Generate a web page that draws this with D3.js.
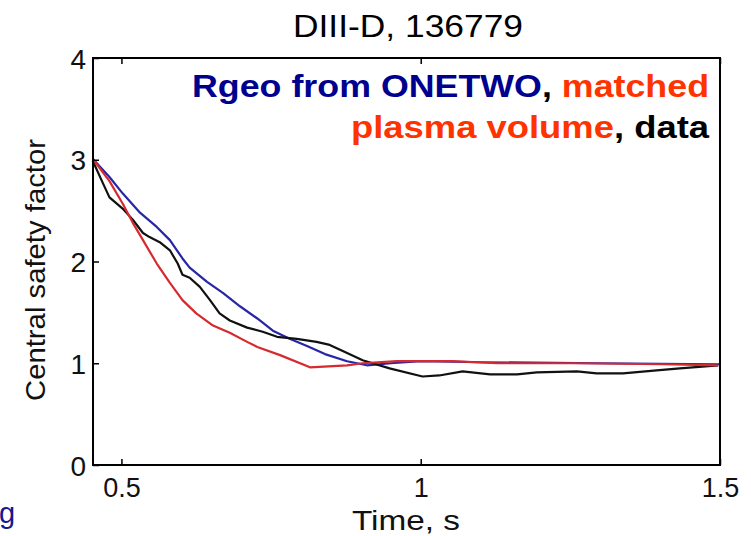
<!DOCTYPE html>
<html>
<head>
<meta charset="utf-8">
<script src="https://cdn.jsdelivr.net/npm/d3@7"></script>
<style>
  body { margin: 0; background: #fff; }
  svg { display: block; font-family: "Liberation Sans", Arial, sans-serif; }
</style>
</head>
<body>
<div id="chart"></div>
<script>
// q0 traces
const blueT = [0.452, 0.480, 0.502, 0.531, 0.559, 0.581, 0.602, 0.614, 0.643, 0.670, 0.698, 0.727, 0.753, 0.781, 0.810, 0.840,
               0.877, 0.910, 0.950, 1.000, 1.100, 1.300, 1.500];
const blueQ = [3.01, 2.83, 2.67, 2.48, 2.34, 2.21, 2.03, 1.94, 1.80, 1.69, 1.56, 1.44, 1.32, 1.24, 1.17, 1.09,
               1.02, 0.98, 1.00, 1.02, 1.01, 1.00, 0.99];

const blackT = [0.452, 0.469, 0.480, 0.502, 0.519, 0.536, 0.547, 0.564, 0.581, 0.594, 0.602, 0.614, 0.631, 0.648, 0.664, 0.681,
                0.710, 0.736, 0.760, 0.793, 0.826, 0.848, 0.877, 0.903, 0.948,
                1.003, 1.031, 1.070, 1.116, 1.161, 1.194, 1.261, 1.294, 1.338, 1.394, 1.433, 1.497];
const blackQ = [2.99, 2.77, 2.63, 2.52, 2.41, 2.28, 2.24, 2.19, 2.11, 1.98, 1.87, 1.84, 1.75, 1.62, 1.49, 1.42,
                1.35, 1.31, 1.26, 1.24, 1.21, 1.18, 1.10, 1.03, 0.95,
                0.87, 0.88, 0.92, 0.89, 0.89, 0.91, 0.92, 0.90, 0.90, 0.93, 0.95, 0.98];

const redT = [0.452, 0.480, 0.502, 0.519, 0.536, 0.559, 0.581, 0.602, 0.625, 0.653, 0.681, 0.710, 0.727, 0.765, 0.815,
              0.877, 0.903, 0.960, 1.054, 1.127, 1.260, 1.404, 1.497];
const redQ = [3.01, 2.79, 2.57, 2.38, 2.21, 1.98, 1.79, 1.62, 1.49, 1.37, 1.30, 1.21, 1.16, 1.08, 0.96,
              0.98, 1.00, 1.02, 1.02, 1.00, 1.00, 0.99, 0.98];

const xTicks = [0.5, 1, 1.5];
const yTicks = [0, 1, 2, 3, 4];

const width = 751, height = 536;
const plotLeft = 93, plotRight = 720, plotTop = 58, plotBottom = 465;

const x = d3.scaleLinear().domain([0.4525, 1.5]).range([plotLeft, plotRight]);
const y = d3.scaleLinear().domain([0, 4]).range([plotBottom, plotTop]);

const svg = d3.select('#chart').append('svg')
    .attr('width', width)
    .attr('height', height);

// title
svg.append('text')
    .attr('x', 408).attr('y', 36.5)
    .attr('text-anchor', 'middle')
    .attr('font-size', 32)
    .attr('textLength', 230).attr('lengthAdjust', 'spacingAndGlyphs')
    .text('DIII-D, 136779');

// curves
const line = d3.line().x(d => x(d[0])).y(d => y(d[1]));
const series = [
    {t: blueT, q: blueQ, colour: '#2626a6'},
    {t: blackT, q: blackQ, colour: '#111111'},
    {t: redT, q: redQ, colour: '#d62a2e'}
];
series.forEach(s => {
    svg.append('path')
        .datum(s.t.map((t, i) => [t, s.q[i]]))
        .attr('fill', 'none')
        .attr('stroke', s.colour)
        .attr('stroke-width', 2.2)
        .attr('stroke-linejoin', 'round')
        .attr('d', line);
});

// axes, ticks pointing inward
const xAxis = svg.append('g')
    .attr('transform', `translate(0, ${plotBottom})`)
    .call(d3.axisBottom(x).tickValues(xTicks).tickFormat(d => d).tickSize(-6).tickPadding(12));
svg.append('g')
    .attr('transform', `translate(0, ${plotTop})`)
    .call(d3.axisTop(x).tickValues(xTicks).tickFormat('').tickSize(-6));
const yAxis = svg.append('g')
    .attr('transform', `translate(${plotLeft}, 0)`)
    .call(d3.axisLeft(y).tickValues(yTicks).tickFormat(d => d).tickSize(-6).tickPadding(7));

svg.selectAll('.domain').remove();
svg.selectAll('.tick line').attr('stroke', '#000').attr('stroke-width', 1.5);
xAxis.selectAll('text').attr('font-size', 27).attr('fill', '#111')
    .attr('dy', null).attr('y', 32);
yAxis.selectAll('text').attr('font-size', 28).attr('fill', '#111').attr('dy', '0.36em');

// frame
svg.append('rect')
    .attr('x', plotLeft).attr('y', plotTop)
    .attr('width', plotRight - plotLeft).attr('height', plotBottom - plotTop)
    .attr('fill', 'none').attr('stroke', '#000').attr('stroke-width', 2);

// axis labels
svg.append('text')
    .attr('x', 406).attr('y', 530)
    .attr('text-anchor', 'middle')
    .attr('font-size', 28).attr('fill', '#111')
    .attr('textLength', 108).attr('lengthAdjust', 'spacingAndGlyphs')
    .text('Time, s');

svg.append('text')
    .attr('transform', 'translate(45, 270) rotate(-90)')
    .attr('text-anchor', 'middle')
    .attr('font-size', 28).attr('fill', '#111')
    .attr('textLength', 262).attr('lengthAdjust', 'spacingAndGlyphs')
    .text('Central safety factor');

// legend text
const l1 = svg.append('text')
    .attr('x', 709).attr('y', 97)
    .attr('text-anchor', 'end')
    .attr('font-size', 32).attr('font-weight', 'bold')
    .attr('textLength', 517).attr('lengthAdjust', 'spacingAndGlyphs');
l1.append('tspan').attr('fill', '#00008f').text('Rgeo from ONETWO');
l1.append('tspan').attr('fill', '#000').text(', ');
l1.append('tspan').attr('fill', '#ff3300').text('matched');

const l2 = svg.append('text')
    .attr('x', 709).attr('y', 137.5)
    .attr('text-anchor', 'end')
    .attr('font-size', 32).attr('font-weight', 'bold')
    .attr('textLength', 358).attr('lengthAdjust', 'spacingAndGlyphs');
l2.append('tspan').attr('fill', '#ff3300').text('plasma volume');
l2.append('tspan').attr('fill', '#000').text(', data');

// cut-off fragment at lower left
svg.append('text')
    .attr('x', -1).attr('y', 523)
    .attr('font-size', 29).attr('fill', '#17178f')
    .text('g');
</script>
</body>
</html>
